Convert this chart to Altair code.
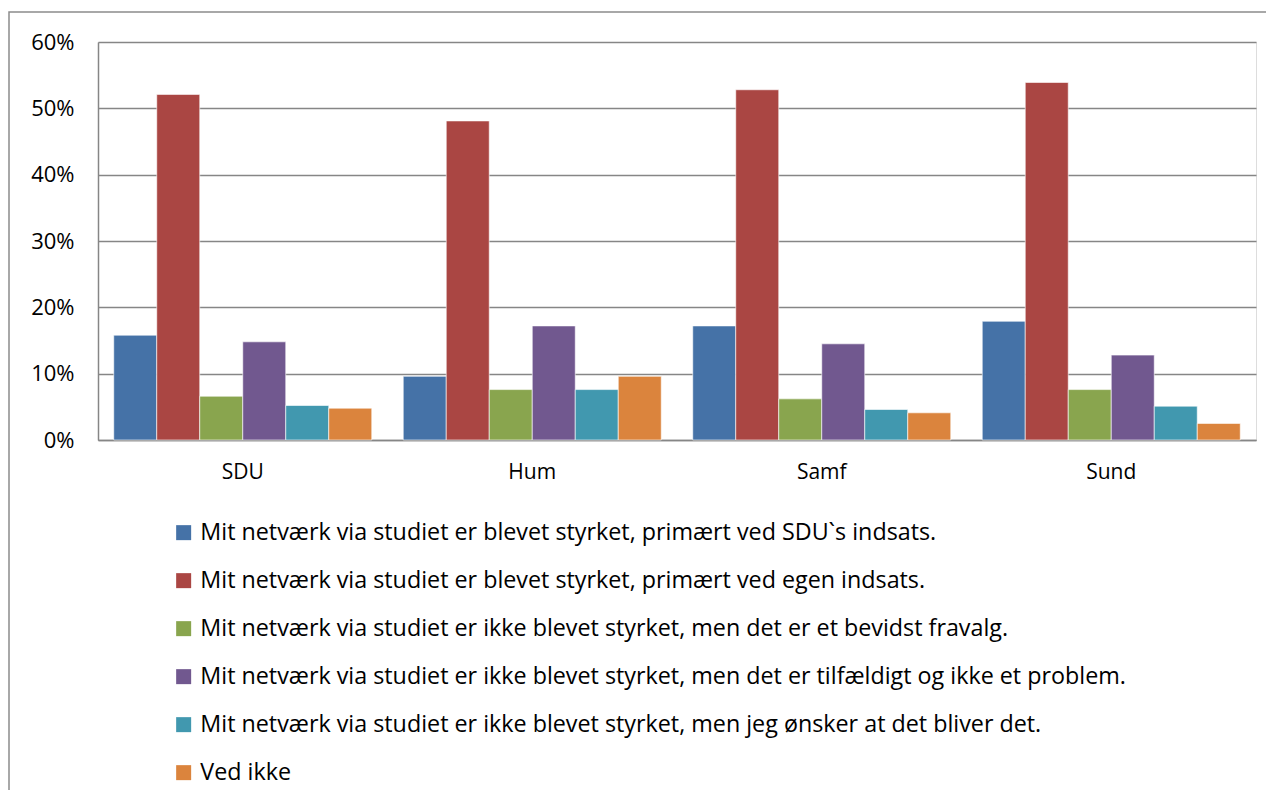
import altair as alt
import pandas as pd

categories = ["SDU", "Hum", "Samf", "Sund"]
series = [
    "Mit netværk via studiet er blevet styrket, primært ved SDU`s indsats.",
    "Mit netværk via studiet er blevet styrket, primært ved egen indsats.",
    "Mit netværk via studiet er ikke blevet styrket, men det er et bevidst fravalg.",
    "Mit netværk via studiet er ikke blevet styrket, men det er tilfældigt og ikke et problem.",
    "Mit netværk via studiet er ikke blevet styrket, men jeg ønsker at det bliver det.",
    "Ved ikke",
]
colors = ["#4572A7", "#AA4643", "#89A54E", "#71588F", "#4198AF", "#DB843D"]

# values per series, in order of categories (fractions)
s1 = [0.158, 0.096, 0.172, 0.179]
s2 = [0.521, 0.481, 0.528, 0.539]
s3 = [0.066, 0.076, 0.062, 0.076]
s4 = [0.148, 0.172, 0.145, 0.128]
s5 = [0.052, 0.076, 0.046, 0.051]
s6 = [0.048, 0.096, 0.041, 0.025]
values = [s1, s2, s3, s4, s5, s6]

rows = []
for name, vals in zip(series, values):
    for cat, v in zip(categories, vals):
        rows.append({"cat": cat, "series": name, "value": v})
df = pd.DataFrame(rows)

FONT = "Open Sans"
W, H = 1158, 398

bars = alt.Chart(df).mark_bar(stroke="white", strokeOpacity=0.6, strokeWidth=1).encode(
    x=alt.X("cat:N", sort=categories, title=None,
            scale=alt.Scale(paddingInner=0, paddingOuter=0),
            axis=alt.Axis(labelAngle=0, labelFontSize=21, labelFont=FONT, labelColor="black",
                          labelPadding=21, ticks=False, domainColor="#868686", domainWidth=1.5,
                          grid=False)),
    xOffset=alt.XOffset("series:N", sort=series, scale=alt.Scale(paddingOuter=0.366, paddingInner=0)),
    y=alt.Y("value:Q", title=None,
            scale=alt.Scale(domain=[0, 0.6], nice=False),
            axis=alt.Axis(format=".0%", values=[0, 0.1, 0.2, 0.3, 0.4, 0.5, 0.6],
                          labelFontSize=22, labelFont=FONT, labelColor="black",
                          labelPadding=24, ticks=False, domainColor="#868686", domainWidth=1.5,
                          gridColor="#868686", gridWidth=1.5)),
    color=alt.Color("series:N", sort=series,
                    scale=alt.Scale(domain=series, range=colors),
                    legend=alt.Legend(title=None, orient="none", legendX=74, legendY=479,
                                      direction="vertical", symbolType="square", symbolSize=225,
                                      symbolStrokeWidth=0, labelFontSize=23.3, labelFont=FONT,
                                      labelColor="black", labelOffset=5, rowPadding=24.0,
                                      labelLimit=1200, padding=0)),
)

border = alt.Chart(alt.Data(values=[{"a": 1}])).mark_rect(
    filled=False, stroke="#8c8c8c", strokeWidth=1.5
).encode(
    x=alt.value(-89), x2=alt.value(1300), y=alt.value(-30), y2=alt.value(900)
)

chart = alt.layer(border, bars).properties(
    width=W, height=H,
    autosize=alt.AutoSizeParams(type="none"),
    padding={"left": 90, "top": 34, "right": 10, "bottom": 350},
).configure_view(stroke=None).configure(background="white")

chart.save("out.html", embed_options={"renderer": "svg", "actions": False})
